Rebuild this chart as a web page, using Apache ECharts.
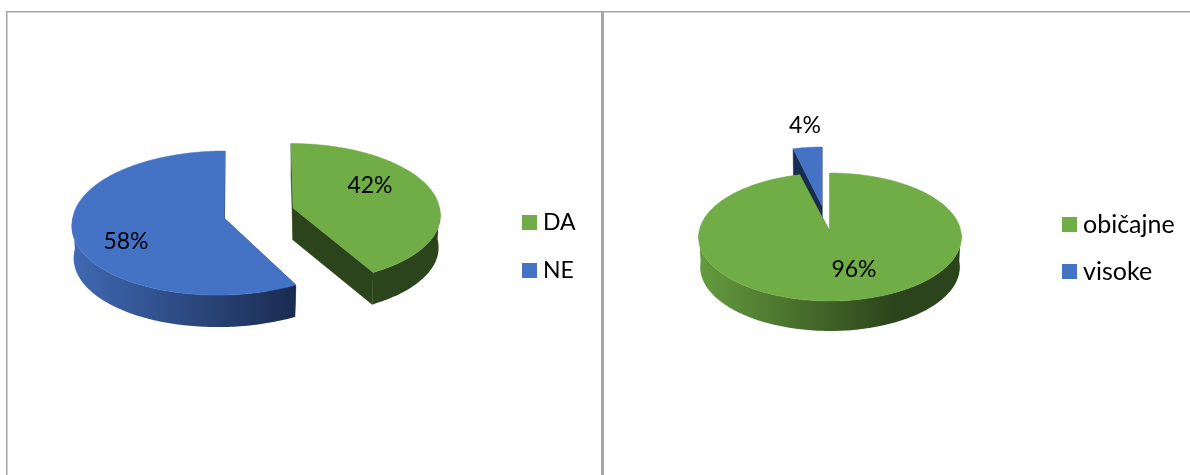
<!DOCTYPE html>
<html>
<head>
<meta charset="utf-8">
<style>html,body{margin:0;padding:0;background:#fff}#c{width:1190px;height:475px}</style>
<script src="https://cdn.jsdelivr.net/npm/echarts@6/dist/echarts.min.js"></script>
</head>
<body>
<div id="c"></div>
<script>
// ---- data ----
const leftCategories = ['DA', 'NE'];
const leftValues = [42, 58];
const rightCategories = ['običajne', 'visoke'];
const rightValues = [96, 4];

// ---- appearance ----
const GREEN = '#70ad47', BLUE = '#4472c4';
const GREEN_DARK = '#2c441b', BLUE_DARK = '#1a2b50';
const GREEN_SIDE = '#659c3e', BLUE_SIDE = '#3f69b3';
const FONT = 'Lato';
const FONT_SIZE = 23;

const chart = echarts.init(document.getElementById('c'), null, {renderer: 'canvas'});

// one tilted slice: angle measured clockwise from 12 o'clock
function project(g, a, r) {
  const X = Math.sin(a) * r, Y = Math.cos(a) * r;
  const w = 1 + g.p * Y;
  const skew = Y < 0 ? g.near * -Y : g.far * Y;
  return [g.cx + g.rx * X / w + skew, g.cy - g.ry * Y / w];
}

function sliceSeries(name, values, idx, g) {
  const total = values.reduce((s, v) => s + v, 0);
  const before = values.slice(0, idx).reduce((s, v) => s + v, 0);
  return {
    type: 'custom',
    name: name,
    coordinateSystem: 'none',
    z: g.z,
    silent: true,
    animation: false,
    itemStyle: {color: g.color},
    data: [values[idx]],
    renderItem: function (params, api) {
      const v = api.value(0);
      const a0 = before / total * Math.PI * 2;
      const a1 = (before + v) / total * Math.PI * 2;
      const n = Math.max(2, Math.ceil((a1 - a0) / 0.02));
      const rim = [];
      for (let i = 0; i <= n; i++) rim.push(project(g, a0 + (a1 - a0) * i / n, 1));
      const apex = [g.cx, g.cy];
      // the lower rim is a little further from the eye, so a little narrower
      const down = (p) => [g.cx + (p[0] - g.cx) * 0.988, p[1] + g.depth];
      const kids = [];
      // cut faces
      [rim[0], rim[n]].forEach(function (p) {
        kids.push({type: 'polygon', shape: {points: [p, apex, down(apex), down(p)]},
          style: {fill: g.dark, stroke: g.dark, lineWidth: 0.5}});
      });
      // outer wall, only the part facing the viewer
      const front = [];
      const angles = [];
      for (let i = 0; i <= n; i++) {
        const a = a0 + (a1 - a0) * i / n;
        if (Math.cos(a) < 0.02) angles.push(a);
      }
      if (angles.length > 1) {
        angles.forEach(a => front.push(project(g, a, 1)));
        const wall = front.concat(front.slice().reverse().map(down));
        kids.push({type: 'polygon', shape: {points: wall}, style: {
          fill: {type: 'linear', x: g.gx0, y: 0, x2: g.gx1, y2: 0, global: true,
            colorStops: [{offset: 0, color: g.side}, {offset: 0.74, color: g.dark}, {offset: 1, color: g.dark}]}
        }});
      }
      // top face
      kids.push({type: 'polygon', shape: {points: [apex].concat(rim)},
        style: {fill: g.color, stroke: g.color, lineWidth: 0.5}});
      // value label
      kids.push({type: 'text', z2: 10, style: {
        x: g.lx, y: g.ly, text: Math.round(v) + '%', fill: '#000',
        fontFamily: FONT, fontSize: FONT_SIZE, align: 'center', verticalAlign: 'middle'}});
      return {type: 'group', children: kids};
    }
  };
}

const greenLeft = {cx: 293, cy: 208, rx: 146.5, ry: 69, p: 0.07, depth: 32, near: 5.7, far: -2,
  color: GREEN, dark: GREEN_DARK, side: GREEN_SIDE, gx0: 146, gx1: 440, lx: 370, ly: 186, z: 2};
const blueLeft = {cx: 224, cy: 218, rx: 151.2, ry: 71.7, p: 0.07, depth: 32, near: -6.6, far: 1,
  color: BLUE, dark: BLUE_DARK, side: BLUE_SIDE, gx0: 72, gx1: 376, lx: 126, ly: 242, z: 2};
const greenRight = {cx: 830, cy: 232, rx: 131, ry: 63.6, p: 0.078, depth: 30, near: 0, far: 0,
  color: GREEN, dark: GREEN_DARK, side: GREEN_SIDE, gx0: 698, gx1: 962, lx: 854, ly: 270, z: 3};
const blueRight = {cx: 822, cy: 206, rx: 125, ry: 63.6, p: 0.078, depth: 29, near: 0, far: 0,
  color: BLUE, dark: BLUE_DARK, side: BLUE_SIDE, gx0: 698, gx1: 962, lx: 805, ly: 126, z: 2};

function legend(names, left, top, gap, size) {
  return {
    data: names, orient: 'vertical', left: left, top: top, padding: 0,
    itemGap: gap, itemWidth: 15, itemHeight: 15, icon: 'rect', selectedMode: false,
    itemStyle: {borderWidth: 0},
    textStyle: {fontFamily: FONT, fontSize: size, color: '#000', padding: [0, 0, 0, 1]}
  };
}

const LINE = '#a6a6a6';
chart.setOption({
  animation: false,
  backgroundColor: '#fff',
  legend: [legend(leftCategories, 522, 211, 25, FONT_SIZE), legend(rightCategories, 1062, 212, 22, 25)],
  graphic: [
    {type: 'rect', silent: true, shape: {x: 6, y: 11, width: 1184, height: 1.5}, style: {fill: LINE}},
    {type: 'rect', silent: true, shape: {x: 6, y: 11, width: 1.5, height: 464}, style: {fill: LINE}},
    {type: 'rect', silent: true, shape: {x: 601, y: 11, width: 3, height: 464}, style: {fill: LINE}}
  ],
  series: [
    sliceSeries(leftCategories[0], leftValues, 0, greenLeft),
    sliceSeries(leftCategories[1], leftValues, 1, blueLeft),
    sliceSeries(rightCategories[0], rightValues, 0, greenRight),
    sliceSeries(rightCategories[1], rightValues, 1, blueRight)
  ]
});
</script>
</body>
</html>
